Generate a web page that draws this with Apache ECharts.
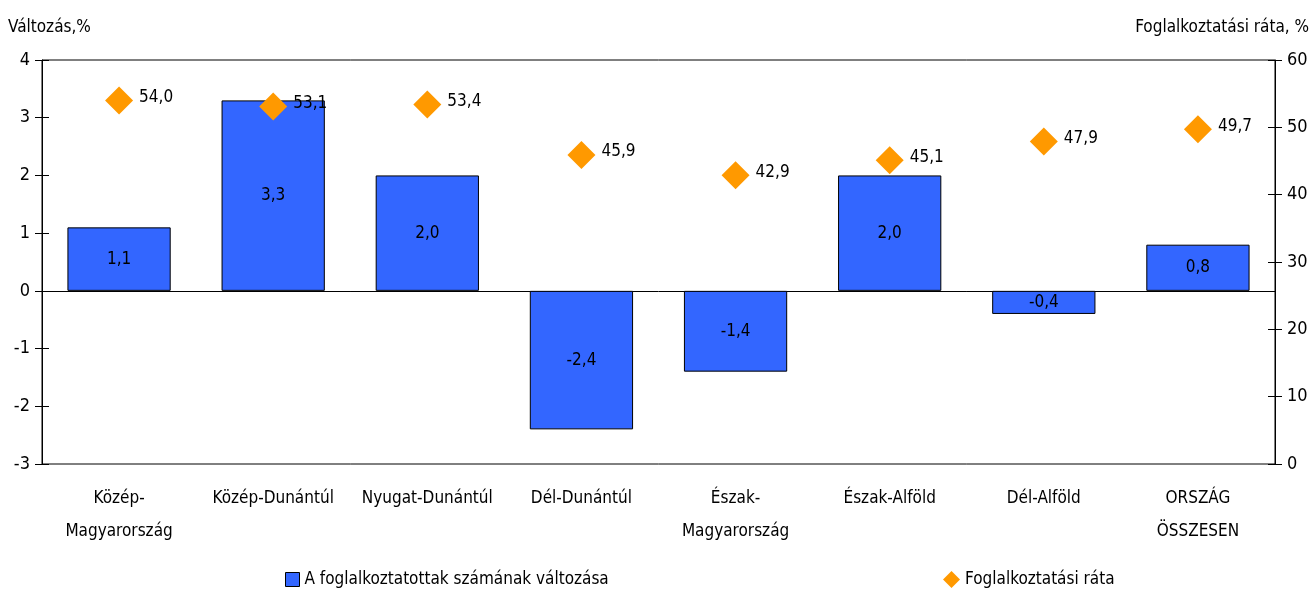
<!DOCTYPE html>
<html><head><meta charset="utf-8">
<script src="https://cdn.jsdelivr.net/npm/echarts@6/dist/echarts.min.js"></script>
<style>html,body{margin:0;padding:0;background:#fff}#c{width:1312px;height:590px}</style>
</head><body><div id="c"></div>
<script>
const categories = ['Közép-\nMagyarország','Közép-Dunántúl','Nyugat-Dunántúl','Dél-Dunántúl','Észak-\nMagyarország','Észak-Alföld','Dél-Alföld','ORSZÁG\nÖSSZESEN'];
const changeValues = [1.1, 3.3, 2.0, -2.4, -1.4, 2.0, -0.4, 0.8];
const rateValues = [54.0, 53.1, 53.4, 45.9, 42.9, 45.1, 47.9, 49.7];
const leftTicks = [-3, 4, 1];
const rightTicks = [0, 60, 10];
const seriesNames = ['A foglalkoztatottak számának változása', 'Foglalkoztatási ráta'];

const FONT = '"Liberation Sans Narrow", "DejaVu Sans Condensed", "Liberation Sans", sans-serif';
const fmt = v => v.toFixed(1).replace('.', ',');
const chart = echarts.init(document.getElementById('c'), null, {renderer: 'canvas'});
const txt = {fontFamily: FONT, fontSize: 17, color: '#000'};
chart.setOption({
  animation: false,
  textStyle: {fontFamily: FONT},
  grid: {left: 42, right: 37, top: 60, bottom: 126, show: true, borderColor: '#000', borderWidth: 1, backgroundColor: 'transparent'},
  legend: [
    {data: [seriesNames[0]], left: 280, top: 566, itemWidth: 14, itemHeight: 14, icon: 'rect', textStyle: txt, itemStyle: {borderColor: '#000', borderWidth: 1}},
    {data: [seriesNames[1]], left: 938, top: 566, itemWidth: 17, itemHeight: 17, textStyle: txt, itemStyle: {opacity: 1}}
  ],
  xAxis: {
    type: 'category', data: categories,
    axisLine: {lineStyle: {color: '#000', width: 1}},
    axisTick: {show: false},
    axisLabel: Object.assign({margin: 18, lineHeight: 33, interval: 0}, txt)
  },
  yAxis: [
    {type: 'value', min: leftTicks[0], max: leftTicks[1], interval: leftTicks[2], position: 'left',
     name: 'Változás,%', nameLocation: 'end', nameGap: 24, nameTextStyle: Object.assign({align: 'left', padding: [0,0,0,-34]}, txt),
     axisLine: {show: true, lineStyle: {color: '#000'}}, axisTick: {show: true, length: 7, lineStyle: {color: '#000'}},
     splitLine: {show: false}, axisLabel: Object.assign({margin: 12}, txt, {fontSize: 18})},
    {type: 'value', min: rightTicks[0], max: rightTicks[1], interval: rightTicks[2], position: 'right',
     name: 'Foglalkoztatási ráta, %', nameLocation: 'end', nameGap: 24, nameTextStyle: Object.assign({align: 'right', padding: [0,-34,0,0]}, txt),
     axisLine: {show: true, lineStyle: {color: '#000'}}, axisTick: {show: true, length: 7, lineStyle: {color: '#000'}},
     splitLine: {show: false}, axisLabel: Object.assign({margin: 12}, txt, {fontSize: 18})},
    {type: 'value', min: leftTicks[0], max: leftTicks[1], interval: leftTicks[2], position: 'left',
     axisLine: {show: false}, axisTick: {show: true, inside: true, length: 7, lineStyle: {color: '#000'}},
     splitLine: {show: false}, axisLabel: {show: false}},
    {type: 'value', min: rightTicks[0], max: rightTicks[1], interval: rightTicks[2], position: 'right',
     axisLine: {show: false}, axisTick: {show: true, inside: true, length: 7, lineStyle: {color: '#000'}},
     splitLine: {show: false}, axisLabel: {show: false}}
  ],
  series: [
    {name: seriesNames[0], type: 'bar', yAxisIndex: 0, data: changeValues, barWidth: '67%',
     itemStyle: {color: '#3366FF', borderColor: '#000', borderWidth: 1},
     label: Object.assign({show: true, position: 'inside', formatter: p => fmt(p.value)}, txt)},
    {name: seriesNames[1], type: 'scatter', yAxisIndex: 1, data: rateValues, symbol: 'diamond', symbolSize: [28, 28],
     itemStyle: {color: '#FF9900', opacity: 1}, z: 5,
     label: Object.assign({show: true, position: 'right', distance: 6, offset: [0, -3], opacity: 1, formatter: p => fmt(p.value)}, txt)}
  ]
});
</script></body></html>
